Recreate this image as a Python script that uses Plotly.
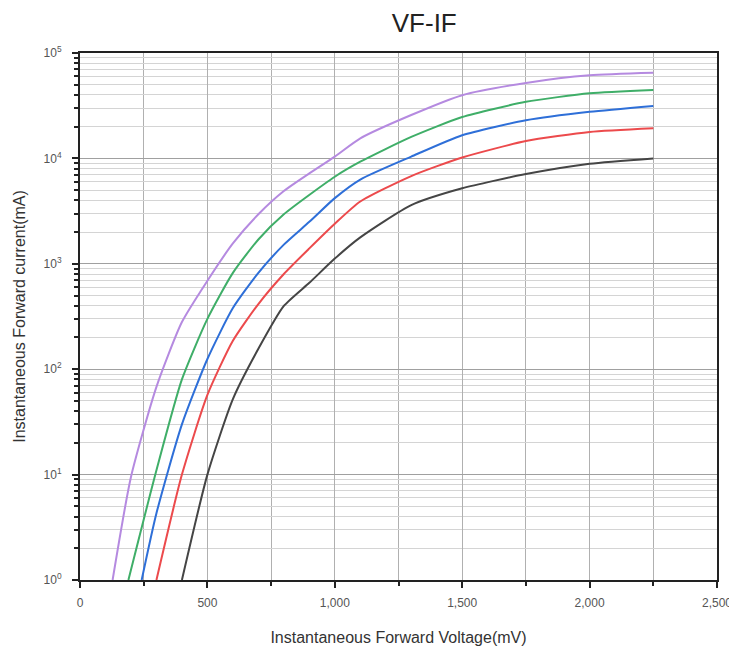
import plotly.graph_objects as go

# Forward voltage (mV) and forward current (mA) per junction temperature
v_150 = [128, 200, 300, 400, 500, 600, 700, 800, 900, 1000, 1100, 1300, 1500, 1750, 2000, 2250]
i_150 = [1, 9.5, 68, 280, 690, 1560, 2950, 4900, 7200, 10400, 15500, 25800, 39800, 52000, 61500, 65000]

v_125 = [190, 300, 400, 500, 600, 700, 800, 1000, 1100, 1300, 1500, 1750, 2000, 2250]
i_125 = [1, 11, 80, 300, 820, 1700, 2950, 6700, 9300, 16000, 24700, 34400, 41500, 44600]

v_100 = [242, 300, 400, 500, 600, 700, 800, 900, 1000, 1100, 1300, 1500, 1750, 2000, 2250]
i_100 = [1, 4.3, 30, 125, 380, 820, 1520, 2500, 4200, 6300, 10400, 16600, 23000, 27700, 31500]

v_75 = [300, 400, 500, 600, 700, 800, 900, 1000, 1100, 1300, 1500, 1750, 2000, 2250]
i_75 = [1, 10, 57, 186, 415, 800, 1400, 2400, 3900, 6800, 10200, 14600, 17800, 19300]

v_25 = [400, 500, 600, 700, 800, 900, 1000, 1100, 1300, 1500, 1750, 2000, 2250]
i_25 = [1, 10, 52, 156, 398, 660, 1120, 1780, 3600, 5200, 7100, 8900, 10000]

labels = ["150℃", "125℃", "100℃", "75℃", "25℃"]
label_y = [59000, 39000, 26000, 15500, 10000]

x_ticks = [0, 500, 1000, 1500, 2000, 2500]
y_ticks = [1, 10, 100, 1000, 10000, 100000]
y_ticktext = ["10<sup>0</sup>", "10<sup>1</sup>", "10<sup>2</sup>", "10<sup>3</sup>", "10<sup>4</sup>", "10<sup>5</sup>"]

series = [
    (v_150, i_150, "#b58ae0"),
    (v_125, i_125, "#3fae68"),
    (v_100, i_100, "#2e6fd8"),
    (v_75, i_75, "#ec4a4c"),
    (v_25, i_25, "#454545"),
]

fig = go.Figure()
for (vx, iy, col), name in zip(series, labels):
    fig.add_trace(go.Scatter(x=vx, y=iy, mode="lines", name=name,
                             line=dict(color=col, width=2, shape="spline", smoothing=0.6)))

for name, yv in zip(labels, label_y):
    fig.add_annotation(x=2450, y=yv, xref="x", yref="y", text=name, showarrow=False,
                       xanchor="right", yanchor="middle",
                       font=dict(size=12, color="#555555", family="Liberation Sans"))

minor_y = [m * 10 ** d for d in range(0, 5) for m in range(2, 10)]

fig.update_layout(
    width=729, height=646,
    margin=dict(l=72, r=20, t=45, b=74),
    paper_bgcolor="white", plot_bgcolor="white",
    showlegend=False,
    title=dict(text="VF-IF", x=0.571, xref="container", xanchor="center",
               y=0.977, yref="container", yanchor="middle",
               font=dict(size=26, color="#222222", family="Liberation Sans")),
    font=dict(family="Liberation Sans", color="#555555"),
)
fig.update_xaxes(
    range=[0, 2500], tickvals=x_ticks, tickformat=",", automargin=False,
    ticks="outside", ticklen=6, tickcolor="#222222", tickwidth=1.5, ticklabelstandoff=5,
    showline=True, linecolor="#222222", linewidth=2, mirror=True,
    showgrid=True, gridcolor="#b0b0b0", gridwidth=1,
    minor=dict(dtick=250, ticks="outside", ticklen=4, tickcolor="#222222",
               showgrid=True, gridcolor="#b0b0b0"),
    tickfont=dict(size=12, color="#555555"),
    title=dict(text="Instantaneous Forward Voltage(mV)", font=dict(size=16, color="#333333"), standoff=22),
    zeroline=False,
)
fig.update_yaxes(
    type="log", range=[0, 5], tickvals=y_ticks, ticktext=y_ticktext, automargin=False,
    ticks="outside", ticklen=6, tickcolor="#222222", tickwidth=1.5, ticklabelstandoff=8,
    showline=True, linecolor="#222222", linewidth=2, mirror=True,
    showgrid=True, gridcolor="#a0a0a0", gridwidth=1,
    minor=dict(tickvals=minor_y, ticks="outside", ticklen=4, tickcolor="#222222",
               showgrid=True, gridcolor="#d4d4d4"),
    tickfont=dict(size=12, color="#555555"),
    title=dict(text="Instantaneous Forward current(mA)", font=dict(size=16, color="#333333"), standoff=14),
    zeroline=False,
)

fig.write_html("out.html")
